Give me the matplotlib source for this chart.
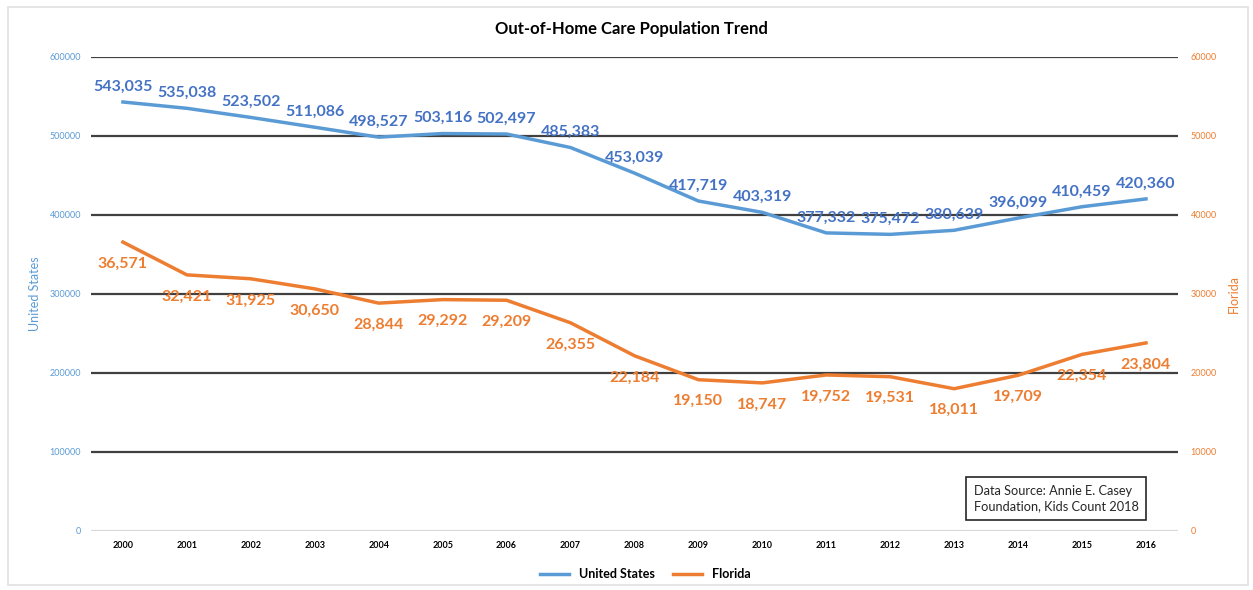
import matplotlib.pyplot as plt
import matplotlib.patches as patches
from matplotlib.lines import Line2D

# data
years = [str(y) for y in range(2000, 2017)]
us_values = [543035, 535038, 523502, 511086, 498527, 503116, 502497, 485383, 453039,
             417719, 403319, 377332, 375472, 380639, 396099, 410459, 420360]
fl_values = [36571, 32421, 31925, 30650, 28844, 29292, 29209, 26355, 22184,
             19150, 18747, 19752, 19531, 18011, 19709, 22354, 23804]
us_ticks = [0, 100000, 200000, 300000, 400000, 500000, 600000]
fl_ticks = [0, 10000, 20000, 30000, 40000, 50000, 60000]

us_line = '#5B9BD5'
us_text = '#4472C4'
fl_color = '#ED7D31'

plt.rcParams['font.family'] = ['Lato', 'DejaVu Sans']

fig = plt.figure(figsize=(12.53, 5.9), dpi=100, facecolor='white')
ax = fig.add_axes([0.0726, 0.1, 0.8675, 0.8034])
ax2 = ax.twinx()

x = list(range(len(years)))

# gridlines (from left axis)
for t in us_ticks:
    ax.axhline(t, color='#d9d9d9' if t == 0 else '#404040', lw=1.6, zorder=0)

ax.plot(x, us_values, color=us_line, lw=2.5, zorder=3)
ax2.plot(x, fl_values, color=fl_color, lw=2.5, zorder=3)

for xi, v in zip(x, us_values):
    ax.annotate(f'{v:,}', (xi, v), xytext=(0, 6), textcoords='offset points',
                ha='center', va='bottom', color=us_text, fontsize=11.5, fontweight='bold')
for xi, v in zip(x, fl_values):
    ax2.annotate(f'{v:,}', (xi, v), xytext=(0, -10.5), textcoords='offset points',
                 ha='center', va='top', color=fl_color, fontsize=11.5, fontweight='bold')

ax.set_xlim(-0.5, len(years) - 0.5)
ax.set_ylim(0, 600000)
ax2.set_ylim(0, 60000)
ax.set_xticks(x)
ax.set_xticklabels(years, fontsize=6.5, fontweight='bold', color='black')
ax.set_yticks(us_ticks)
ax.set_yticklabels([str(t) for t in us_ticks], fontsize=6.5, color=us_line)
ax2.set_yticks(fl_ticks)
ax2.set_yticklabels([str(t) for t in fl_ticks], fontsize=6.5, color=fl_color)
ax.tick_params(axis='both', length=0, pad=7)
ax2.tick_params(axis='y', length=0, pad=9)

for a in (ax, ax2):
    for s in a.spines.values():
        s.set_visible(False)

ax.set_ylabel('United States', color=us_line, fontsize=9, labelpad=6)
ax2.set_ylabel('Florida', color=fl_color, fontsize=9, labelpad=8)

fig.text(0.504, 0.951, 'Out-of-Home Care Population Trend', ha='center', va='center',
         fontsize=12, fontweight='bold', color='black')

# source box
ax.text(0.812, 0.068, 'Data Source: Annie E. Casey\nFoundation, Kids Count 2018',
        transform=ax.transAxes, ha='left', va='center', fontsize=9.2, color='#262626',
        linespacing=1.35,
        bbox=dict(boxstyle='square,pad=0.6', fc='white', ec='#262626', lw=1.2), zorder=5)

# legend
handles = [Line2D([0], [0], color=us_line, lw=2.5), Line2D([0], [0], color=fl_color, lw=2.5)]
fig.legend(handles, ['United States', 'Florida'], loc='center', bbox_to_anchor=(0.515, 0.027),
           ncol=2, frameon=False, prop={'size': 9, 'weight': 'bold'}, handlelength=2.3,
           columnspacing=1.5)

# outer chart border
fig.patches.append(patches.Rectangle((0.006, 0.008), 0.99, 0.98, transform=fig.transFigure,
                                     fill=False, ec='#e0e0e0', lw=1.2))

fig.savefig('out.png', dpi=100)
